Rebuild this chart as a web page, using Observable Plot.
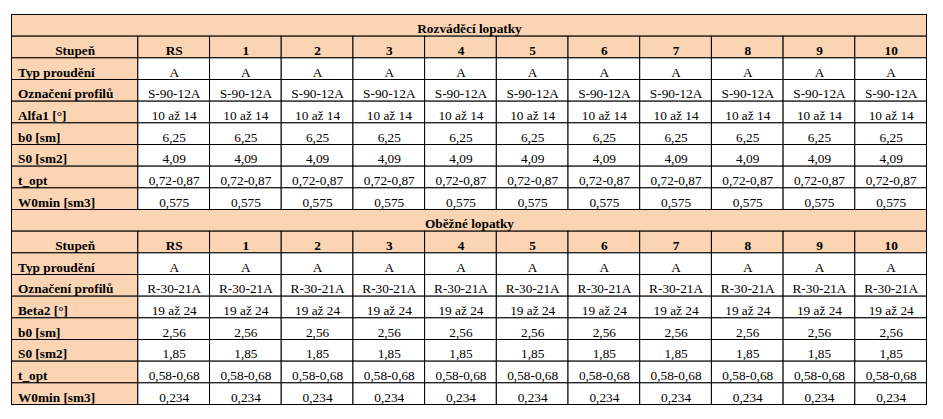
<!DOCTYPE html>
<html>
<head>
<meta charset="utf-8">
<script src="https://cdn.jsdelivr.net/npm/d3@7"></script>
<script src="https://cdn.jsdelivr.net/npm/@observablehq/plot@0.6"></script>
<style>
  html, body { margin: 0; padding: 0; background: white; }
  #chart svg { display: block; }
  #chart svg text { font-family: "Liberation Serif", "Times New Roman", serif !important; }
</style>
</head>
<body>
<div id="chart"></div>
<script>
// ---- data ----
const sectionTitles = ["Rozváděcí lopatky", "Oběžné lopatky"];
const headerLabel = "Stupeň";
const stages = ["RS", "1", "2", "3", "4", "5", "6", "7", "8", "9", "10"];
const rowLabels1 = ["Typ proudění", "Označení profilů", "Alfa1 [°]", "b0 [sm]", "S0 [sm2]", "t_opt", "W0min [sm3]"];
const rowValues1 = ["A", "S-90-12A", "10 až 14", "6,25", "4,09", "0,72-0,87", "0,575"];
const rowLabels2 = ["Typ proudění", "Označení profilů", "Beta2 [°]", "b0 [sm]", "S0 [sm2]", "t_opt", "W0min [sm3]"];
const rowValues2 = ["A", "R-30-21A", "19 až 24", "2,56", "1,85", "0,58-0,68", "0,234"];

// ---- layout (not data) ----
const LW = 1.762;                // label column width in stage-column units
const nCols = stages.length;
const XMAX = LW + nCols;
const PEACH = "#FBD4B4";
const FONT = "'Liberation Serif', 'Times New Roman', serif";

const sections = [
  {title: sectionTitles[0], labels: rowLabels1, values: rowValues1},
  {title: sectionTitles[1], labels: rowLabels2, values: rowValues2}
];
const rowsPerSection = 2 + rowLabels1.length;
const NROWS = rowsPerSection * sections.length;

const peachCells = [], whiteCells = [];
const titleTexts = [], headTexts = [], labelTexts = [], valueTexts = [];
sections.forEach((s, si) => {
  const r0 = si * rowsPerSection;
  peachCells.push({x1: 0, x2: XMAX, y1: r0, y2: r0 + 1});
  titleTexts.push({x: XMAX / 2, y: r0 + 0.5, text: s.title});
  peachCells.push({x1: 0, x2: LW, y1: r0 + 1, y2: r0 + 2});
  headTexts.push({x: LW / 2, y: r0 + 1.5, text: headerLabel});
  stages.forEach((st, ci) => {
    peachCells.push({x1: LW + ci, x2: LW + ci + 1, y1: r0 + 1, y2: r0 + 2});
    headTexts.push({x: LW + ci + 0.5, y: r0 + 1.5, text: st});
  });
  s.labels.forEach((lab, ri) => {
    const r = r0 + 2 + ri;
    peachCells.push({x1: 0, x2: LW, y1: r, y2: r + 1});
    labelTexts.push({x: 0, y: r + 0.5, text: lab});
    stages.forEach((st, ci) => {
      whiteCells.push({x1: LW + ci, x2: LW + ci + 1, y1: r, y2: r + 1});
      valueTexts.push({x: LW + ci + 0.5, y: r + 0.5, text: s.values[ri]});
    });
  });
});

const FS = 13.3;
const DY = 3.2;
const chart = Plot.plot({
  width: 943,
  height: 419,
  margin: 0,
  x: {domain: [0, XMAX], range: [11.5, 926.5], axis: null},
  y: {domain: [0, NROWS], range: [14.5, 404.5], axis: null},
  style: {fontFamily: FONT, fontSize: FS + "px", background: "white", color: "black"},
  marks: [
    Plot.rect(peachCells, {x1: "x1", x2: "x2", y1: "y1", y2: "y2", fill: PEACH, stroke: "black", strokeWidth: 1}),
    Plot.rect(whiteCells, {x1: "x1", x2: "x2", y1: "y1", y2: "y2", fill: "white", stroke: "black", strokeWidth: 1}),
    Plot.text(titleTexts, {x: "x", y: "y", text: "text", fontFamily: FONT, fontWeight: "bold", fontSize: FS, fill: "black", dy: DY}),
    Plot.text(headTexts, {x: "x", y: "y", text: "text", fontFamily: FONT, fontWeight: "bold", fontSize: FS, fill: "black", dy: DY}),
    Plot.text(labelTexts, {x: "x", y: "y", text: "text", fontFamily: FONT, fontWeight: "bold", fontSize: FS, fill: "black", textAnchor: "start", dx: 6, dy: DY}),
    Plot.text(valueTexts, {x: "x", y: "y", text: "text", fontFamily: FONT, fontSize: FS, fill: "black", dy: DY})
  ]
});
document.getElementById("chart").appendChild(chart);
</script>
</body>
</html>
